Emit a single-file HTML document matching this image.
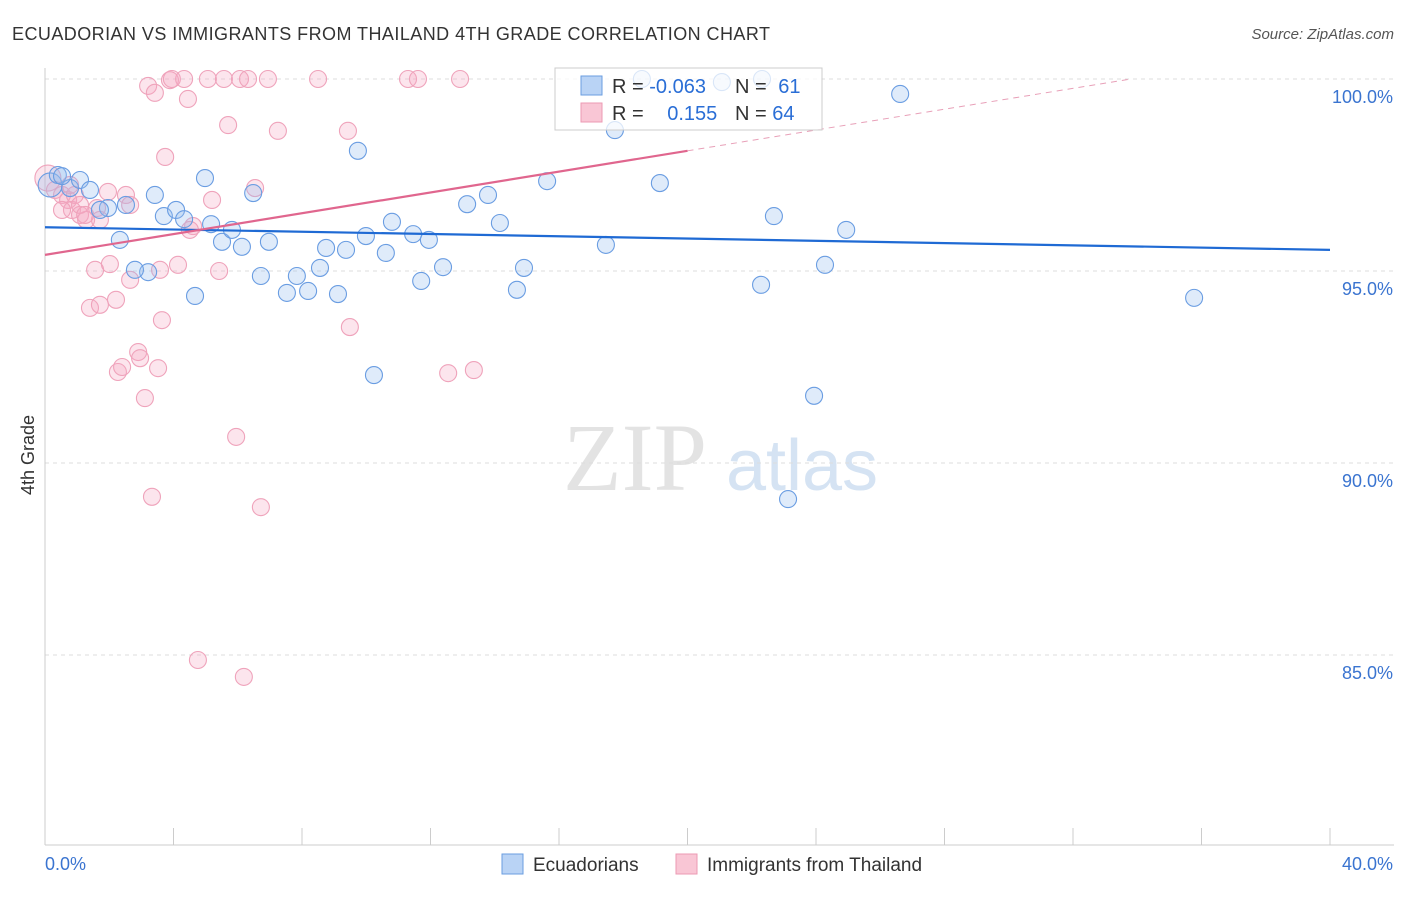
<!DOCTYPE html>
<html><head><meta charset="utf-8"><style>
body{margin:0;background:#fff;font-family:"Liberation Sans",sans-serif}
</style></head><body>
<svg id="chart" width="1406" height="892" style="font-family:'Liberation Sans',sans-serif">
<text x="12" y="40" font-size="18" fill="#333" textLength="758">ECUADORIAN VS IMMIGRANTS FROM THAILAND 4TH GRADE CORRELATION CHART</text>
<text x="1394" y="39" font-size="15" fill="#555" font-style="italic" text-anchor="end">Source: ZipAtlas.com</text>
<text x="34" y="455" font-size="18" fill="#333" text-anchor="middle" transform="rotate(-90 34 455)">4th Grade</text>
<g><text x="635" y="490" font-size="96" style="font-family:'Liberation Serif',serif" fill="#e3e3e3" text-anchor="middle">ZIP</text><text x="802" y="490" font-size="72" fill="#d5e3f3" text-anchor="middle">atlas</text></g>
<g id="grid"></g><g id="axes"></g><g id="pts"></g><g id="trend"></g>
<g>
<rect x="555" y="68" width="267" height="62" fill="rgba(255,255,255,0.75)" stroke="#ccc"/>
<rect x="581" y="76" width="21" height="19" fill="#b9d3f5" stroke="#6a9ee0"/>
<rect x="581" y="103" width="21" height="19" fill="#f9c6d5" stroke="#ec9ab3"/>
<text x="612" y="93" font-size="20" fill="#333">R = <tspan fill="#2a6ed6">-0.063</tspan></text>
<text x="735" y="93" font-size="20" fill="#333">N = <tspan fill="#2a6ed6" dx="6">61</tspan></text>
<text x="612" y="120" font-size="20" fill="#333">R = <tspan fill="#2a6ed6" dx="18">0.155</tspan></text>
<text x="735" y="120" font-size="20" fill="#333">N = <tspan fill="#2a6ed6">64</tspan></text>
</g>
<g>
<rect x="502" y="854" width="21" height="20" fill="#b9d3f5" stroke="#6a9ee0"/>
<text x="533" y="871" font-size="19" fill="#333">Ecuadorians</text>
<rect x="676" y="854" width="21" height="20" fill="#f9c6d5" stroke="#ec9ab3"/>
<text x="707" y="871" font-size="19" fill="#333">Immigrants from Thailand</text>
</g>
</svg>
<script>
const blueX=[0.16,0.40,0.78,1.09,1.40,1.96,2.52,2.33,3.21,3.42,3.70,4.08,4.33,4.67,4.98,5.17,5.51,6.13,5.82,6.48,6.72,6.97,7.53,7.84,8.19,8.56,8.75,9.12,9.37,9.74,9.99,10.24,10.61,10.80,11.46,11.71,11.95,12.39,13.14,13.79,14.16,14.69,14.91,15.63,17.46,17.74,19.14,18.58,21.07,22.32,22.29,22.69,23.13,23.94,24.28,24.94,26.62,35.77,0.53,1.71,2.80];
const blueY=[97.24,97.50,97.16,97.37,97.11,96.64,96.72,95.81,94.97,96.98,96.43,96.59,96.35,94.35,97.42,96.22,95.76,95.63,96.07,97.03,94.87,95.76,94.43,94.87,94.48,95.08,95.60,94.40,95.55,98.13,95.91,92.29,95.47,96.28,95.96,94.74,95.81,95.10,96.74,96.98,96.25,94.51,95.08,97.34,95.68,98.67,97.29,100,99.92,100,94.64,96.43,89.06,91.75,95.16,96.07,99.61,94.30,97.47,96.59,95.03];
const pinkX=[0.09,0.31,0.53,0.72,0.84,1.09,1.28,1.56,1.40,1.71,2.02,2.21,1.96,2.52,2.65,2.27,2.40,2.90,2.96,3.11,3.33,3.52,3.64,3.74,3.21,3.42,3.89,4.14,4.45,4.61,4.76,5.20,5.42,5.70,5.95,6.19,6.54,6.72,5.07,5.57,6.07,6.32,6.94,7.25,8.50,9.43,9.49,11.30,11.61,12.55,12.92,13.35,4.33,3.95,0.53,0.93,1.09,1.62,2.65,1.71,3.58,0.78,1.25,4.51];
const pinkY=[97.42,97.11,96.98,96.85,96.59,96.46,96.33,95.03,94.04,94.12,95.18,94.25,97.06,96.98,94.77,92.37,92.50,92.89,92.73,91.69,89.12,92.47,93.72,97.97,99.82,99.64,99.97,95.16,99.48,96.17,84.87,96.85,95.00,98.80,90.68,84.43,97.16,88.85,100,100,100,100,100,98.65,100,98.65,93.54,100,100,92.34,100,92.42,100,100,96.59,96.98,96.72,96.64,96.72,96.33,95.03,97.24,96.46,96.07];
const blueTrendX=[0,40], blueTrendY=[96.14,95.55];
const pinkTrendX=[0,20,33.8], pinkTrendY=[95.42,98.13,100];
const yTicks=[100,95,90,85], yTickLabels=["100.0%","95.0%","90.0%","85.0%"];
const sx=v=>45+v*(1285/40), sy=v=>79+(100-v)*(192/5);
const NS="http://www.w3.org/2000/svg";
function mk(p,t,a){const e=document.createElementNS(NS,t);for(const k in a)e.setAttribute(k,a[k]);p.appendChild(e);return e;}
const grid=document.getElementById('grid'),axes=document.getElementById('axes'),pts=document.getElementById('pts'),tr=document.getElementById('trend');
yTicks.forEach((t,i)=>{
 const l=mk(grid,'line',{x1:45,x2:1394,y1:sy(t),y2:sy(t),stroke:'#ddd','stroke-dasharray':'4 4'});
 
 
 const tx=mk(axes,'text',{x:1393,y:sy(t)+24,'font-size':18,fill:'#3a74d0','text-anchor':'end'});tx.textContent=yTickLabels[i];
 
 
});
mk(axes,'line',{x1:45,x2:45,y1:68,y2:845,stroke:'#ccc'});
mk(axes,'line',{x1:45,x2:1394,y1:845,y2:845,stroke:'#ccc'});
for(let i=0;i<=10;i++){const t=mk(axes,'line',{x1:sx(i*4),x2:sx(i*4),y1:828,y2:845,stroke:'#ccc'});
 
 }
const x0=mk(axes,'text',{x:45,y:870,'font-size':18,fill:'#3a74d0'});x0.textContent='0.0%';


const x1=mk(axes,'text',{x:1393,y:870,'font-size':18,fill:'#3a74d0','text-anchor':'end'});x1.textContent='40.0%';


pinkX.forEach((x,i)=>{const c=mk(pts,'circle',{cx:sx(x),cy:sy(pinkY[i]),r:i==0?13:8.5,fill:'rgba(246,170,195,0.3)',stroke:'#efa3bb','stroke-width':1.1});
 
 });
blueX.forEach((x,i)=>{const c=mk(pts,'circle',{cx:sx(x),cy:sy(blueY[i]),r:i==0?12:8.5,fill:'rgba(150,190,240,0.3)',stroke:'#6a9de2','stroke-width':1.1});
 
 });
const bl=mk(tr,'line',{x1:sx(blueTrendX[0]),y1:sy(blueTrendY[0]),x2:sx(blueTrendX[1]),y2:sy(blueTrendY[1]),stroke:'#1f6ad4','stroke-width':2.2});


const pl=mk(tr,'line',{x1:sx(pinkTrendX[0]),y1:sy(pinkTrendY[0]),x2:sx(pinkTrendX[1]),y2:sy(pinkTrendY[1]),stroke:'#e0668e','stroke-width':2.2});


const pd=mk(tr,'line',{x1:sx(pinkTrendX[1]),y1:sy(pinkTrendY[1]),x2:sx(pinkTrendX[2]),y2:sy(pinkTrendY[2]),stroke:'#e8a0b8','stroke-width':1,'stroke-dasharray':'6 5'});


</script>
</body></html>
